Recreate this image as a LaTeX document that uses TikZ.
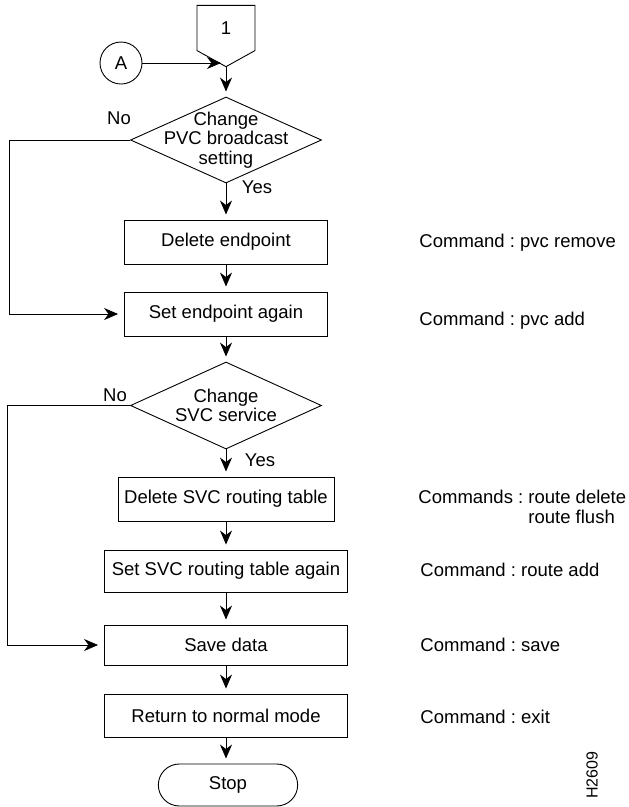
\documentclass[tikz,border=0pt]{standalone}
\usepackage{fontspec}
\setmainfont{Liberation Sans}
\usetikzlibrary{shapes,arrows.meta}
\frenchspacing

\begin{document}
\begin{tikzpicture}[x=1pt, y=-1pt, font=\fontsize{18.5}{19.5}\selectfont,
    line width=0.9pt, >={Stealth[length=14pt, width=12pt, inset=4.5pt]},
    process/.style={draw, rectangle, minimum height=44pt, inner sep=0pt},
    decision/.style={draw, diamond, minimum width=191pt, minimum height=86pt, inner sep=0pt},
    cmd/.style={anchor=west, inner sep=0pt, align=left}]
    \useasboundingbox (0,0) rectangle (629,807);

    \node [draw, signal, signal to=south, signal pointer angle=122, minimum width=58pt,
      minimum height=48pt, inner sep=0pt] (one) at (226,28) {1};
    \node [draw, circle, minimum size=42pt, inner sep=0pt] (a) at (121,63) {A};
    \node [decision, label={[align=center]center:{Change\\PVC broadcast\\setting}}] (pvc) at (226,140) {};
    \node [process, minimum width=203pt] (delep) at (226,242) {Delete endpoint};
    \node [process, minimum width=203pt] (setep) at (226,314) {Set endpoint again};
    \node [decision, minimum height=87pt, label={[align=center]center:{Change\\SVC service}}] (svc) at (226,405.5) {};
    \node [process, minimum width=216pt] (delrt) at (226,499) {Delete SVC routing table};
    \node [process, minimum width=243pt, minimum height=42pt] (setrt) at (226,571) {Set SVC routing table again};
    \node [process, minimum width=243pt, minimum height=40pt] (save) at (226,645) {Save data};
    \node [process, minimum width=243pt, minimum height=43pt] (ret) at (226,715.5) {Return to normal mode};
    \node [draw, rounded rectangle, minimum width=146pt, minimum height=42pt] (stop) at (228,785) {Stop};

    \node (no1) at (119,118) {No};
    \node (yes1) at (257,187) {Yes};
    \node (no2) at (115,395) {No};
    \node (yes2) at (260,460) {Yes};

    \node [cmd] (c1) at (419,243) {Command : pvc remove};
    \node [cmd] (c2) at (419,321) {Command : pvc add};
    \node [cmd] (c3) at (418,507) {Commands : route delete\\\phantom{Commands : }route flush};
    \node [cmd] (c4) at (420,570) {Command : route add};
    \node [cmd] (c5) at (420,645) {Command : save};
    \node [cmd] (c6) at (420,717) {Command : exit};
    \node [rotate=90, font=\fontsize{16}{18}\selectfont] (fig) at (592,775) {H2609};

    \draw [->, shorten >=5pt] (one.south) -- (pvc.north);
    \draw [->, shorten >=5pt] (a.east) -- (a.east -| one.south);
    \foreach \u/\v in {pvc/delep, delep/setep, setep/svc, svc/delrt, delrt/setrt, setrt/save, save/ret}
      \draw [->, shorten >=5pt] (\u.south) -- (\v.north);
    \draw [->, shorten >=5pt] (ret.south) -- (ret.south |- stop.north);
    \draw [->, shorten >=6pt] (pvc.west) -- ++(-121,0) |- (setep.west);
    \draw [->, shorten >=6pt] (svc.west) -- ++(-123,0) |- (save.west);
  \end{tikzpicture}
\end{document}
